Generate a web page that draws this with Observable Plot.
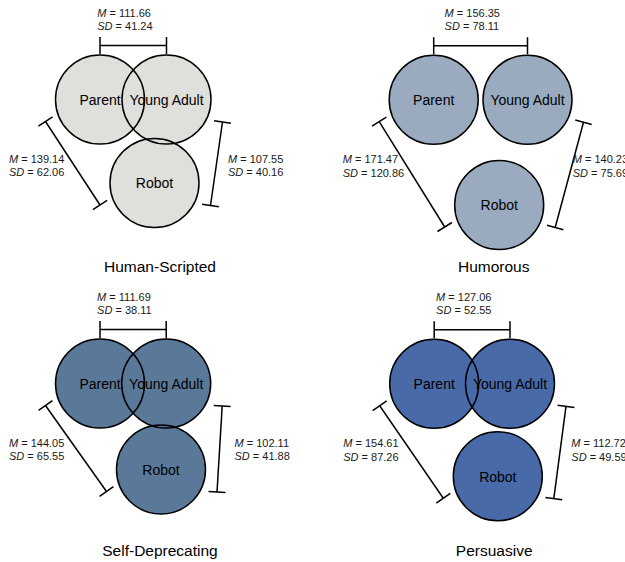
<!DOCTYPE html>
<html><head><meta charset="utf-8">
<script src="https://cdn.jsdelivr.net/npm/d3@7"></script>
<script src="https://cdn.jsdelivr.net/npm/@observablehq/plot@0.6"></script>
<style>html,body{margin:0;padding:0;background:#fff;} #chart{width:625px;height:562px;overflow:hidden}</style>
</head><body><div id="chart"></div>
<script>
// ---- data ----
const panels = ["Human-Scripted", "Humorous", "Self-Deprecating", "Persuasive"];
const roles = ["Parent", "Young Adult", "Robot"];
// circle centres of the distance layout, per panel (x right, y down)
const parentX = [99.5, 121.2, 99.5, 121.7];
const parentY = [99, 99.2, 102, 102.3];
const youngX  = [166, 215, 165.7, 197.5];
const youngY  = [99, 99.2, 102, 102.3];
const robotX  = [154, 186.7, 160.5, 185.3];
const robotY  = [182.5, 204.5, 188, 194.7];
// Parent–Young Adult, Parent–Robot, Young Adult–Robot distances
const pyMean = ["111.66", "156.35", "111.69", "127.06"];
const pySD   = ["41.24", "78.11", "38.11", "52.55"];
const prMean = ["139.14", "171.47", "144.05", "154.61"];
const prSD   = ["62.06", "120.86", "65.55", "87.26"];
const yrMean = ["107.55", "140.23", "102.11", "112.72"];
const yrSD   = ["40.16", "75.69", "41.88", "49.59"];
const panelFill = ["#dfdfdb", "#9aabc0", "#5a7999", "#486aa8"];

// ---- layout ----
const colOff = [0, 312, 0, 312], rowOff = [0, 0, 281, 281];
const R = 44.5, TICK = 8.5;
const fontFamily = "'Liberation Sans', Arial, Helvetica, sans-serif";

const circles = [], names = [], titles = [], segs = [], mRows = [], sdRows = [];
function bracket(A, B, off) {
  const a = {x: A.x + off[0], y: A.y + off[1]}, b = {x: B.x + off[0], y: B.y + off[1]};
  const dx = b.x - a.x, dy = b.y - a.y, L = Math.hypot(dx, dy);
  const nx = -dy / L * TICK, ny = dx / L * TICK;
  segs.push({x1: a.x, y1: a.y, x2: b.x, y2: b.y});
  segs.push({x1: a.x - nx, y1: a.y - ny, x2: a.x + nx, y2: a.y + ny});
  segs.push({x1: b.x - nx, y1: b.y - ny, x2: b.x + nx, y2: b.y + ny});
}
panels.forEach((name, i) => {
  const ox = colOff[i], oy = rowOff[i];
  const P = {x: parentX[i] + ox, y: parentY[i] + oy};
  const Y = {x: youngX[i] + ox, y: youngY[i] + oy};
  const Rb = {x: robotX[i] + ox, y: robotY[i] + oy};
  [P, Y, Rb].forEach((c, k) => {
    circles.push({...c, fill: panelFill[i]});
    names.push({x: c.x, y: c.y + 1, t: roles[k]});
  });
  titles.push({x: P.x + 60, y: P.y + 167.7, t: name});
  bracket(P, Y, [0, -54]);
  bracket(P, Rb, [-54.5, 22]);
  bracket(Y, Rb, [56, 22.5]);
  const labs = [
    {x: (P.x + Y.x) / 2 - 36, y: P.y - 86.5, m: pyMean[i], s: pySD[i]},
    {x: P.x - 91, y: P.y + 60, m: prMean[i], s: prSD[i]},
    {x: Rb.x + 73.5, y: P.y + 60, m: yrMean[i], s: yrSD[i]}
  ];
  labs.forEach(l => {
    mRows.push({x: l.x, y: l.y, v: "\u00a0=\u00a0" + l.m});
    sdRows.push({x: l.x, y: l.y + 13.3, v: "\u00a0=\u00a0" + l.s});
  });
});

const ctx = document.createElement("canvas").getContext("2d");
ctx.font = "italic 11px " + fontFamily;
const wM = ctx.measureText("M").width, wSD = ctx.measureText("SD").width;

const statStyle = {fontSize: 11, fill: "#1a1a1a", textAnchor: "start"};
const plot = Plot.plot({
  width: 625, height: 562, margin: 0,
  x: {domain: [0, 625], range: [0, 625], axis: null},
  y: {domain: [0, 562], range: [0, 562], axis: null},
  color: {type: "identity"},
  style: {fontFamily, background: "white", overflow: "hidden"},
  marks: [
    Plot.dot(circles, {x: "x", y: "y", r: R, fill: "fill", stroke: "none"}),
    Plot.dot(circles, {x: "x", y: "y", r: R, fill: "none", stroke: "black", strokeWidth: 1.5}),
    Plot.link(segs, {x1: "x1", y1: "y1", x2: "x2", y2: "y2", stroke: "black", strokeWidth: 1.5}),
    Plot.text(names, {x: "x", y: "y", text: "t", fontSize: 14, fill: "black"}),
    Plot.text(titles, {x: "x", y: "y", text: "t", fontSize: 15.5, fill: "black"}),
    Plot.text(mRows, {x: "x", y: "y", text: () => "M", fontStyle: "italic", ...statStyle}),
    Plot.text(mRows, {x: "x", y: "y", text: "v", dx: wM, ...statStyle}),
    Plot.text(sdRows, {x: "x", y: "y", text: () => "SD", fontStyle: "italic", ...statStyle}),
    Plot.text(sdRows, {x: "x", y: "y", text: "v", dx: wSD, ...statStyle})
  ]
});
document.getElementById("chart").appendChild(plot);
</script>
</body></html>
